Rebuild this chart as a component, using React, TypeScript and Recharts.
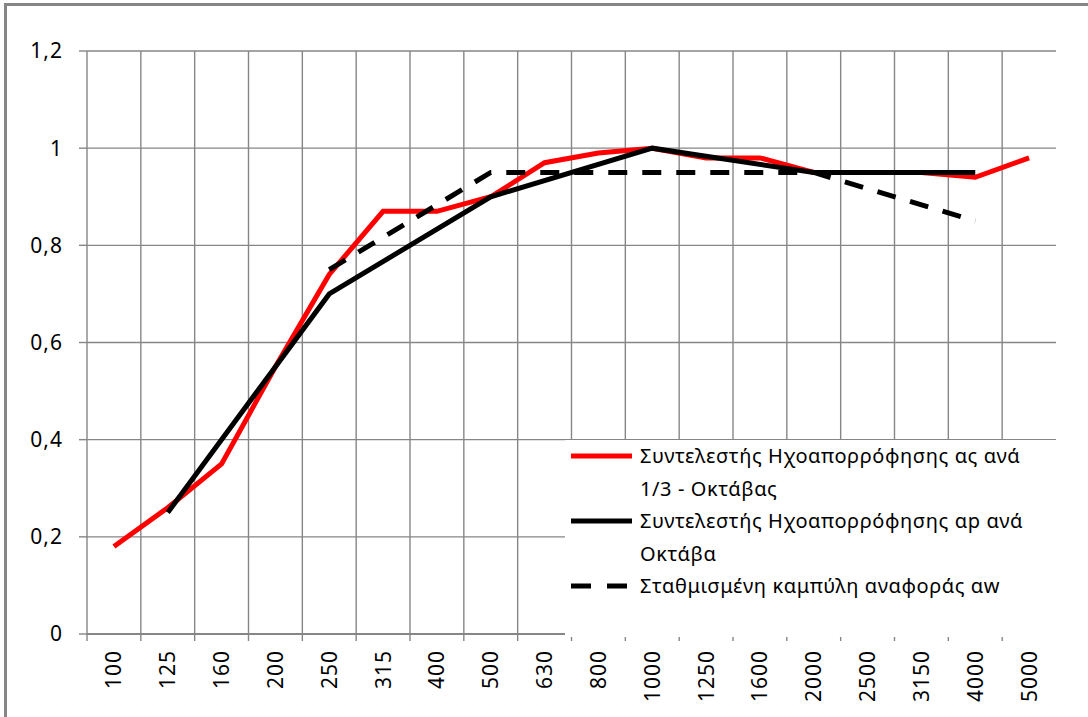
import React from 'react';
import { LineChart, Line, XAxis, YAxis, CartesianGrid, Legend } from 'recharts';

// 1/3-octave centre frequencies (Hz)
const FREQS = ['100', '125', '160', '200', '250', '315', '400', '500', '630', '800', '1000', '1250', '1600', '2000', '2500', '3150', '4000', '5000'];
// αs per 1/3 octave
const ALPHA_S = [0.18, 0.26, 0.35, 0.55, 0.74, 0.87, 0.87, 0.9, 0.97, 0.99, 1.0, 0.98, 0.98, 0.95, 0.95, 0.95, 0.94, 0.98];
// αp per octave
const ALPHA_P = [null, 0.25, null, null, 0.7, null, null, 0.9, null, null, 1.0, null, null, 0.95, null, null, 0.95, null];
// shifted reference curve αw
const ALPHA_W = [null, null, null, null, 0.75, null, null, 0.95, null, null, 0.95, null, null, 0.95, null, null, 0.85, null];

const Y_TICKS = [0, 0.2, 0.4, 0.6, 0.8, 1, 1.2];

const data = FREQS.map((f, i) => ({ f, as: ALPHA_S[i], ap: ALPHA_P[i], aw: ALPHA_W[i] }));

const SERIES = [
    { key: 'as', name: 'Συντελεστής Ηχοαπορρόφησης ας ανά 1/3 - Οκτάβας', color: '#ff0000', dash: undefined },
    { key: 'ap', name: 'Συντελεστής Ηχοαπορρόφησης αp ανά Οκτάβα', color: '#000000', dash: undefined },
    { key: 'aw', name: 'Σταθμισμένη καμπύλη αναφοράς αw', color: '#000000', dash: '19 15' },
];

const FONT = '"Noto Sans", sans-serif';
const GRID = '#868686';
const TICK_SIZE = 7;
const TICK_MARGIN = 9;

const fmtY = (v: number) => String(v).replace('.', ',');

// rotated frequency label + boundary tick mark on the left of each category
const FreqTick = (props: any) => {
    const { x, y, payload, width, visibleTicksCount } = props;
    const half = width / visibleTicksCount / 2;
    const y0 = y - TICK_SIZE - TICK_MARGIN;
    return (
        <g>
            <line x1={x - half} x2={x - half} y1={y0} y2={y0 + TICK_SIZE} stroke={GRID} strokeWidth={1.4} />
            <text x={x} y={y} transform={`rotate(-90, ${x}, ${y})`} textAnchor="end" dy="0.36em"
                fontFamily={FONT} fontSize={21} letterSpacing={1} fill="#000">
                {payload.value}
            </text>
        </g>
    );
};

const LegendBox = () => (
    <div style={{ fontFamily: FONT, fontSize: 20, letterSpacing: 0.6, lineHeight: '32.5px', color: '#000', paddingLeft: 6 }}>
        {SERIES.map((s) => (
            <div key={s.key} style={{ display: 'flex', alignItems: 'flex-start' }}>
                <svg width={69} height={32} style={{ flex: 'none' }}>
                    <line x1={0} y1={16} x2={61} y2={16} stroke={s.color} strokeWidth={5}
                        strokeDasharray={s.dash ? '20 16' : undefined} />
                </svg>
                <span style={{ width: 405 }}>{s.name}</span>
            </div>
        ))}
    </div>
);

const categoryEdges = ({ offset }: any) =>
    FREQS.slice(1).map((_, i) => offset.left + ((i + 1) * offset.width) / FREQS.length);

export default function App() {
    return (
        <div style={{ position: 'absolute', left: 0, top: 0, width: 1088, height: 717, background: '#fff', overflow: 'hidden' }}>
            <div style={{ position: 'absolute', left: 4, top: 3, right: -10, bottom: -10, borderTop: `3px solid ${GRID}`, borderLeft: `3px solid ${GRID}` }} />
            <div style={{ position: 'absolute', left: 0, top: 0 }}>
                <LineChart width={1088} height={717} data={data} margin={{ top: 51, right: 32, bottom: 13, left: 7 }}>
                    <CartesianGrid stroke={GRID} strokeWidth={1.4} verticalCoordinatesGenerator={categoryEdges} />
                    <XAxis dataKey="f" scale="band" height={70} tickLine={false} tickSize={TICK_SIZE} tickMargin={TICK_MARGIN}
                        axisLine={{ stroke: GRID, strokeWidth: 2 }} tick={<FreqTick />} interval={0} />
                    <YAxis domain={[0, 1.2]} ticks={Y_TICKS} tickFormatter={fmtY} width={80} tickSize={8}
                        axisLine={{ stroke: GRID, strokeWidth: 1.4 }} tickLine={{ stroke: GRID, strokeWidth: 1.4 }}
                        tick={{ fontFamily: FONT, fontSize: 21, letterSpacing: 1, fill: '#000' }} tickMargin={16} />
                    {SERIES.map((s) => (
                        <Line key={s.key} type="linear" dataKey={s.key} name={s.name} stroke={s.color}
                            strokeWidth={5} strokeDasharray={s.dash} dot={false} connectNulls isAnimationActive={false} />
                    ))}
                    <Legend layout="vertical" align="center" verticalAlign="middle" content={<LegendBox />}
                        wrapperStyle={{ left: 565, top: 440, width: 491, height: 197, backgroundColor: '#fff' }} />
                </LineChart>
            </div>
        </div>
    );
}
